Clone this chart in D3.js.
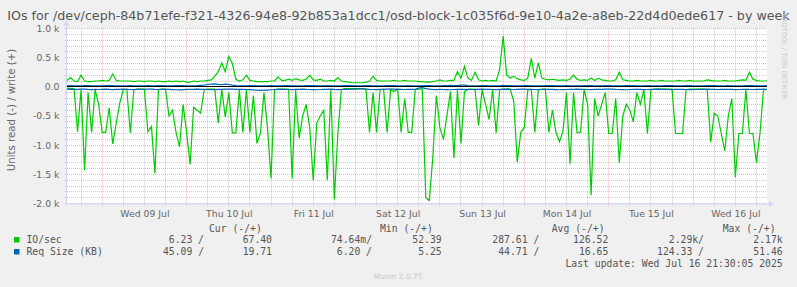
<!DOCTYPE html>
<html>
<head>
<meta charset="utf-8">
<script src="https://cdn.jsdelivr.net/npm/d3@7"></script>
<style>
  body { margin: 0; background: #f0f0f0; }
  svg text { font-family: "DejaVu Sans", sans-serif; }
  svg .mono { font-family: "DejaVu Sans Mono", monospace; }
</style>
</head>
<body>
<svg id="chart" width="797" height="287"></svg>
<script>
// hourly samples, starting Tue 08 Jul 14:00
var startTime = new Date(2025, 6, 8, 14, 0)
var endTime = new Date(2025, 6, 16, 21, 0)

// IO/sec read (drawn below zero)
var ioRead = [
  20, 25, 30, 770, 50, 1430, 100, 780, 50, 300, 780, 780, 360, 980, 620, 280, 50, 40, 790, 50,
  40, 40, 40, 770, 680, 1480, 50, 40, 40, 500, 400, 780, 1030, 300, 780, 1330, 350, 400, 450, 50,
  40, 40, 40, 620, 50, 520, 100, 790, 790, 50, 780, 50, 780, 150, 970, 790, 100, 700, 1570, 50,
  40, 40, 40, 40, 1570, 50, 880, 500, 300, 700, 1600, 620, 500, 400, 1600, 50, 1930, 800, 50, 30,
  30, 30, 30, 30, 30, 40, 780, 100, 780, 50, 40, 780, 50, 80, 40, 780, 200, 780, 780, 50,
  40, 40, 1900, 1950, 1200, 150, 700, 900, 500, 80, 1220, 50, 970, 80, 40, 40, 50, 660, 50, 300,
  560, 50, 790, 50, 40, 40, 40, 250, 1290, 780, 700, 50, 50, 780, 50, 40, 40, 780, 400, 780,
  940, 760, 100, 1320, 100, 790, 780, 50, 300, 1860, 200, 500, 300, 100, 800, 800, 200, 1300, 500, 300,
  400, 600, 100, 300, 50, 800, 50, 40, 40, 40, 40, 40, 40, 800, 800, 800, 50, 40, 40, 40,
  40, 40, 50, 950, 450, 500, 800, 1100, 500, 200, 1550, 800, 800, 50, 800, 800, 1300, 800, 50, 50
]

// IO/sec write (drawn above zero)
var ioWrite = [
  110, 160, 100, 90, 200, 100, 90, 90, 100, 100, 110, 100, 110, 220, 110, 100, 100, 100, 100, 90,
  100, 100, 90, 100, 100, 90, 100, 90, 90, 100, 90, 100, 90, 100, 80, 80, 100, 90, 100, 100,
  110, 120, 180, 260, 410, 260, 520, 400, 130, 100, 120, 200, 110, 100, 90, 90, 90, 90, 100, 100,
  170, 110, 110, 130, 110, 140, 120, 110, 130, 200, 120, 110, 130, 100, 100, 110, 100, 160, 100, 90,
  80, 70, 70, 70, 70, 80, 100, 180, 110, 100, 100, 100, 100, 110, 100, 100, 110, 100, 100, 100,
  90, 90, 80, 80, 90, 100, 120, 100, 100, 110, 110, 260, 150, 350, 150, 110, 250, 120, 100, 110,
  100, 110, 100, 300, 870, 200, 150, 180, 140, 120, 110, 150, 490, 150, 410, 150, 130, 120, 130, 120,
  110, 120, 110, 130, 200, 130, 110, 120, 110, 150, 110, 150, 120, 110, 100, 100, 120, 250, 120, 110,
  100, 100, 110, 100, 100, 100, 110, 100, 100, 110, 100, 100, 100, 100, 110, 100, 100, 110, 100, 100,
  100, 100, 120, 110, 100, 100, 100, 110, 100, 100, 100, 110, 120, 110, 250, 130, 110, 100, 100, 100
]

// Req Size (KB) read
var sizeRead = [
  40, 42, 45, 44, 40, 38, 45, 48, 44, 46, 42, 40, 44, 47, 45, 43, 40, 42, 46, 48,
  44, 45, 42, 40, 38, 44, 46, 45, 43, 44, 47, 50, 52, 48, 45, 44, 42, 40, 42, 44,
  46, 48, 50, 45, 42, 40, 38, 40, 42, 45, 44, 46, 48, 52, 55, 60, 58, 55, 50, 46,
  44, 42, 45, 46, 48, 44, 42, 40, 44, 46, 48, 50, 46, 44, 42, 40, 45, 48, 46, 44,
  42, 40, 38, 36, 35, 40, 44, 46, 48, 45, 42, 40, 38, 40, 42, 44, 46, 45, 44, 42,
  20, 15, 30, 40, 45, 48, 44, 46, 48, 50, 46, 44, 42, 45, 48, 46, 44, 42, 40, 42,
  44, 46, 48, 45, 42, 40, 44, 46, 42, 40, 38, 42, 44, 46, 48, 46, 44, 42, 45, 48,
  50, 48, 46, 44, 42, 40, 42, 44, 46, 48, 45, 44, 42, 40, 38, 40, 44, 46, 48, 50,
  46, 44, 42, 45, 48, 46, 44, 42, 40, 42, 44, 46, 48, 45, 42, 44, 46, 48, 50, 46,
  44, 42, 40, 42, 44, 46, 45, 44, 42, 45, 48, 46, 44, 42, 45, 46, 44, 42, 40, 45
]

// Req Size (KB) write
var sizeWrite = [
  18, 20, 16, 15, 18, 20, 22, 18, 16, 15, 18, 20, 22, 20, 18, 16, 15, 18, 20, 18,
  16, 15, 18, 20, 18, 16, 20, 22, 18, 16, 18, 20, 22, 20, 18, 16, 18, 20, 25, 30,
  40, 45, 50, 42, 38, 45, 40, 30, 22, 18, 16, 18, 20, 22, 18, 16, 15, 18, 20, 18,
  16, 18, 20, 22, 18, 16, 15, 18, 20, 22, 20, 18, 16, 18, 20, 18, 16, 15, 18, 20,
  22, 20, 18, 16, 18, 20, 22, 18, 16, 15, 18, 20, 22, 20, 18, 16, 18, 20, 18, 16,
  15, 18, 20, 22, 18, 16, 18, 20, 22, 25, 22, 20, 30, 28, 22, 18, 16, 18, 20, 22,
  18, 16, 15, 18, 25, 22, 20, 18, 16, 18, 20, 22, 18, 16, 15, 18, 20, 22, 20, 18,
  16, 18, 20, 18, 16, 15, 18, 20, 22, 20, 18, 16, 18, 20, 22, 18, 16, 15, 18, 20,
  22, 20, 18, 16, 18, 20, 18, 16, 15, 18, 20, 22, 20, 18, 16, 18, 20, 22, 18, 16,
  15, 18, 20, 22, 20, 18, 16, 18, 20, 18, 16, 15, 18, 20, 22, 20, 18, 16, 18, 20
]

var yTicks = [-2000, -1500, -1000, -500, 0, 500, 1000]
var legendNames = ["IO/sec", "Req Size (KB)"]
var legendColors = ["#00cc00", "#0066b3"]
var legendHeaders = ["Cur (-/+)", "Min (-/+)", "Avg (-/+)", "Max (-/+)"]
var curVals = [["6.23 /", "67.40"], ["45.09 /", "19.71"]]
var minVals = [["74.64m/", "52.39"], ["6.20 /", "5.25"]]
var avgVals = [["287.61 /", "126.52"], ["44.71 /", "16.65"]]
var maxVals = [["2.29k/", "2.17k"], ["124.33 /", "51.46"]]

var titleText = "IOs for /dev/ceph-84b71efe-f321-4326-94e8-92b853a1dcc1/osd-block-1c035f6d-9e10-4a2e-a8eb-22d4d0ede617 - by week"

var svg = d3.select("#chart")
var plotLeft = 67, plotRight = 767, plotTop = 28.5, plotBottom = 203.5
var snap = v => Math.floor(v) + 0.5

var x = d3.scaleTime()
  .domain([startTime, endTime])
  .range([plotLeft, plotRight])

var y = d3.scaleLinear()
  .domain([-2000, 1000])
  .range([plotBottom, plotTop])

var times = ioRead.map((d, i) => d3.timeHour.offset(startTime, i))

// canvas
svg.append("rect")
  .attr("x", plotLeft)
  .attr("y", plotTop)
  .attr("width", plotRight - plotLeft)
  .attr("height", plotBottom - plotTop)
  .attr("fill", "#ffffff")

// minor grid
var gridG = svg.append("g")
d3.range(-2000, 1001, 100).filter(v => v % 500 !== 0).forEach(v => {
  gridG.append("line")
    .attr("x1", plotLeft - 2).attr("x2", plotRight)
    .attr("y1", snap(y(v))).attr("y2", snap(y(v)))
    .attr("stroke", "rgba(140,140,140,0.45)")
    .attr("stroke-dasharray", "1,1")
})
d3.timeHour.every(6).range(startTime, endTime).filter(d => d.getHours() !== 0).forEach(d => {
  gridG.append("line")
    .attr("x1", snap(x(d))).attr("x2", snap(x(d)))
    .attr("y1", plotTop).attr("y2", plotBottom + 2)
    .attr("stroke", "rgba(140,140,140,0.45)")
    .attr("stroke-dasharray", "1,1")
})
// major grid
yTicks.forEach(v => {
  gridG.append("line")
    .attr("x1", plotLeft - 2).attr("x2", plotRight)
    .attr("y1", snap(y(v))).attr("y2", snap(y(v)))
    .attr("stroke", "rgba(240,120,120,0.55)")
    .attr("stroke-dasharray", "1,1")
})
d3.timeDay.range(startTime, endTime).forEach(d => {
  gridG.append("line")
    .attr("x1", snap(x(d))).attr("x2", snap(x(d)))
    .attr("y1", plotTop).attr("y2", plotBottom + 2)
    .attr("stroke", "rgba(240,120,120,0.55)")
    .attr("stroke-dasharray", "1,1")
})

// axes lines + arrows
svg.append("line")
  .attr("x1", plotLeft - 0.5).attr("x2", plotLeft - 0.5)
  .attr("y1", plotBottom + 2).attr("y2", plotTop - 4)
  .attr("stroke", "#cfd6f8")
svg.append("path")
  .attr("d", `M${plotLeft - 3.5},${plotTop - 3} L${plotLeft - 0.5},${plotTop - 8} L${plotLeft + 2.5},${plotTop - 3} Z`)
  .attr("fill", "#cfd6f8")
svg.append("line")
  .attr("x1", plotLeft - 2).attr("x2", plotRight + 3)
  .attr("y1", plotBottom + 0.5).attr("y2", plotBottom + 0.5)
  .attr("stroke", "#cfd6f8")
svg.append("path")
  .attr("d", `M${plotRight + 2},${plotBottom - 2.5} L${plotRight + 7},${plotBottom + 0.5} L${plotRight + 2},${plotBottom + 3.5} Z`)
  .attr("fill", "#cfd6f8")

// y tick labels
svg.append("g")
  .selectAll("text")
  .data(yTicks)
  .enter()
  .append("text")
  .attr("x", 59.5)
  .attr("y", d => y(d))
  .attr("dy", "0.36em")
  .attr("text-anchor", "end")
  .style("font-size", "9.3px")
  .attr("fill", "#666")
  .text(d => d === 0 ? "0.0" : (d / 1000).toFixed(1) + " k")

// x tick labels at noon
var xAxis = d3.axisBottom(x)
  .tickValues(d3.timeDay.range(startTime, endTime).map(d => d3.timeHour.offset(d, 12)).filter(d => d < endTime))
  .tickFormat(d3.timeFormat("%a %d %b"))
  .tickSize(0)
  .tickPadding(0)
var xg = svg.append("g")
  .attr("transform", `translate(0,${plotBottom})`)
  .call(xAxis)
xg.select(".domain").remove()
xg.selectAll("text")
  .attr("y", 13)
  .attr("dy", 0)
  .style("font-size", "9.3px")
  .style("font-family", "'DejaVu Sans', sans-serif")
  .attr("fill", "#666")

// series
var readLine = d3.line()
  .x((d, i) => x(times[i]))
  .y(d => y(-d))
var writeLine = d3.line()
  .x((d, i) => x(times[i]))
  .y(d => y(d))

var plotG = svg.append("g")
plotG.append("path").datum(ioRead).attr("d", readLine)
  .attr("fill", "none").attr("stroke", "#00cc00").attr("stroke-width", 1.2)
plotG.append("path").datum(ioWrite).attr("d", writeLine)
  .attr("fill", "none").attr("stroke", "#00cc00").attr("stroke-width", 1.2)
plotG.append("path").datum(sizeRead).attr("d", readLine)
  .attr("fill", "none").attr("stroke", "#0066b3").attr("stroke-width", 1.2)
plotG.append("path").datum(sizeWrite).attr("d", writeLine)
  .attr("fill", "none").attr("stroke", "#0066b3").attr("stroke-width", 1.2)

// zero rule
svg.append("line")
  .attr("x1", plotLeft).attr("x2", plotRight)
  .attr("y1", snap(y(0))).attr("y2", snap(y(0)))
  .attr("stroke", "#000")

// title
var title = svg.append("text")
  .attr("x", 398.5)
  .attr("y", 20)
  .attr("text-anchor", "middle")
  .attr("fill", "#555")
  .style("font-size", "12px")
  .text(titleText)
var tw = title.node().getComputedTextLength()
title.style("font-size", (12 * 783 / tw).toFixed(2) + "px")

// y axis title
svg.append("text")
  .attr("transform", "translate(14.5,110) rotate(-90)")
  .attr("text-anchor", "middle")
  .attr("fill", "#666")
  .style("font-size", "10.2px")
  .text("Units read (-) / write (+)")

// rrdtool watermark
svg.append("text")
  .attr("transform", "translate(782,13) rotate(90)")
  .attr("fill", "#c8c8c8")
  .style("font-size", "6.7px")
  .text("RRDTOOL / TOBI OETIKER")

// legend
var legG = svg.append("g").attr("class", "mono").style("font-size", "9.75px").attr("fill", "#555")
var headerX = [209, 380, 551.7, 722.7]
legendHeaders.forEach((h, i) => {
  legG.append("text").attr("class", "mono").attr("x", headerX[i]).attr("y", 231.5).text(h)
})
var colRight = [204, 272, 372, 441.7, 539.3, 608.3, 704, 782.7]
var rowY = [243, 255]
legendNames.forEach((name, r) => {
  legG.append("rect")
    .attr("x", 14).attr("y", rowY[r] - 6)
    .attr("width", 5.5).attr("height", 5.5)
    .attr("fill", legendColors[r])
  legG.append("text").attr("class", "mono").attr("x", 26.5).attr("y", rowY[r]).text(name)
  var vals = [].concat(curVals[r], minVals[r], avgVals[r], maxVals[r])
  vals.forEach((v, i) => {
    legG.append("text").attr("class", "mono")
      .attr("x", colRight[i]).attr("y", rowY[r])
      .attr("text-anchor", "end")
      .text(v)
  })
})
legG.append("text").attr("class", "mono")
  .attr("x", 782.7).attr("y", 267)
  .attr("text-anchor", "end")
  .text("Last update: Wed Jul 16 21:30:05 2025")

svg.append("text")
  .attr("x", 398)
  .attr("y", 279)
  .attr("text-anchor", "middle")
  .attr("fill", "#c8c8c8")
  .style("font-size", "7.5px")
  .text("Munin 2.0.75")
</script>
</body>
</html>
